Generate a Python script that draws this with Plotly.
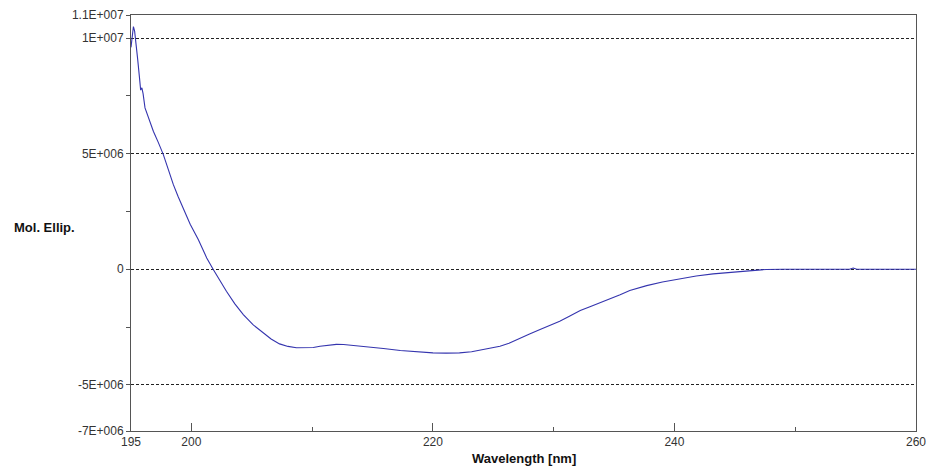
import plotly.graph_objects as go

# CD spectrum: wavelength (nm) vs molar ellipticity
wavelength = [195.0, 195.1, 195.2, 195.3, 195.4, 195.55, 195.7, 195.8, 195.9, 196.0,
              196.16, 196.5, 196.85, 197.25, 197.67, 198.1, 198.5, 198.9, 199.33, 199.9,
              200.57, 201.27, 201.8, 202.3, 202.9, 203.6, 204.3, 205.1, 205.95, 206.6,
              207.3, 208.0, 208.7, 209.4, 210.1, 210.65, 211.4, 212.0, 212.6, 213.5,
              214.5, 215.9, 217.3, 218.6, 220.0, 221.1, 222.2, 223.2, 224.2, 225.55,
              226.3, 227.2, 228.0, 228.87, 229.7, 230.5, 231.3, 232.2, 233.0, 233.8,
              234.6, 235.5, 236.3, 237.7, 239.0, 240.5, 241.8, 243.2, 244.6, 246.0,
              247.6, 249.0, 252.0, 254.5, 254.8, 255.1, 256.0, 258.0, 260.0]
mol_ellip = [9.6e6, 10.1e6, 10.5e6, 10.3e6, 9.9e6, 9.1e6, 8.3e6, 7.75e6, 7.85e6, 7.6e6,
             6.98e6, 6.5e6, 5.97e6, 5.5e6, 4.97e6, 4.3e6, 3.67e6, 3.15e6, 2.6e6, 1.95e6,
             1.29e6, 0.49e6, 0.0, -0.45e6, -0.95e6, -1.5e6, -1.96e6, -2.4e6, -2.76e6, -3.02e6,
             -3.23e6, -3.34e6, -3.4e6, -3.41e6, -3.39e6, -3.33e6, -3.27e6, -3.25e6, -3.26e6, -3.3e6,
             -3.36e6, -3.43e6, -3.52e6, -3.58e6, -3.62e6, -3.63e6, -3.62e6, -3.57e6, -3.48e6, -3.33e6,
             -3.2e6, -2.97e6, -2.8e6, -2.61e6, -2.43e6, -2.25e6, -2.03e6, -1.79e6, -1.62e6, -1.46e6,
             -1.28e6, -1.1e6, -0.92e6, -0.71e6, -0.55e6, -0.40e6, -0.29e6, -0.20e6, -0.14e6, -0.09e6,
             -0.01e6, 0.0, 0.0, 0.0, 0.05e6, 0.0, 0.0, 0.0, 0.0]

x_tick_vals = [195, 200, 220, 240, 260]
x_tick_text = ["195", "200", "220", "240", "260"]
x_minor_vals = [210, 230, 250]
y_tick_vals = [11e6, 10e6, 5e6, 0, -5e6, -7e6]
y_tick_text = ["1.1E+007", "1E+007", "5E+006", "0", "-5E+006", "-7E+006"]
y_minor_vals = [7.5e6, 2.5e6, -2.5e6]

fig = go.Figure()
fig.add_trace(go.Scatter(
    x=wavelength, y=mol_ellip, mode="lines",
    line=dict(color="#3434ae", width=1.1),
    hoverinfo="x+y", showlegend=False,
))

axis_font = dict(family="Liberation Sans, Arial, sans-serif", size=12, color="#333333")
title_font = dict(family="Liberation Sans, Arial, sans-serif", size=13, color="#111111")

fig.update_layout(
    width=926, height=470,
    margin=dict(l=131, r=10, t=15, b=39, autoexpand=False),
    paper_bgcolor="white", plot_bgcolor="white",
    xaxis=dict(
        range=[195, 260], tickmode="array", tickvals=x_tick_vals, ticktext=x_tick_text,
        ticks="inside", ticklen=8, tickcolor="#555555", tickwidth=1,
        minor=dict(tickmode="array", tickvals=x_minor_vals, ticks="inside",
                   ticklen=4, tickcolor="#555555"),
        showgrid=False, zeroline=False, automargin=False, ticklabeloverflow="allow",
        showline=True, linecolor="#555555", linewidth=1, mirror=True,
        tickfont=axis_font,
    ),
    yaxis=dict(
        range=[-7e6, 11e6], tickmode="array", tickvals=y_tick_vals, ticktext=y_tick_text,
        ticks="outside", ticklen=4, tickcolor="#555555", tickwidth=1,
        minor=dict(tickmode="array", tickvals=y_minor_vals, ticks="outside",
                   ticklen=4, tickcolor="#555555"),
        showgrid=True, gridcolor="#222222", gridwidth=1, griddash="3px,2px",
        zeroline=False, automargin=False, ticklabeloverflow="allow",
        showline=True, linecolor="#555555", linewidth=1, mirror=True,
        tickfont=axis_font,
    ),
    annotations=[
        dict(text="<b>Wavelength [nm]</b>", xref="paper", yref="paper",
             x=0.5, y=-0.065, xanchor="center", yanchor="middle", showarrow=False,
             font=title_font),
        dict(text="<b>Mol. Ellip.</b>", xref="paper", yref="paper",
             x=-0.152, y=0.488, xanchor="left", yanchor="middle", showarrow=False,
             font=title_font),
    ],
)

fig.write_html("out.html")
